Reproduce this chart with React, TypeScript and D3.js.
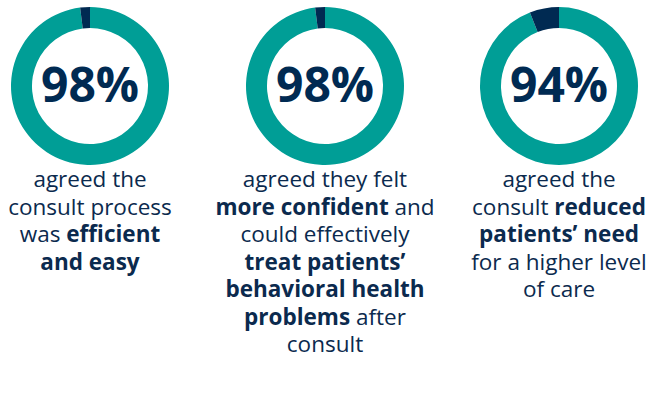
import React from "react";
import * as d3 from "d3";

const values = [98, 98, 94];
const centersX = [90, 325, 559];
const labels = [
  ["agreed the", "consult process", "was **efficient**", "**and easy**"],
  [
    "agreed they felt",
    "**more confident** and",
    "could effectively",
    "**treat patients’**",
    "**behavioral health**",
    "**problems** after",
    "consult",
  ],
  ["agreed the", "consult **reduced**", "**patients’ need**", "for a higher level", "of care"],
];

const TEAL = "#009E96";
const NAVY = "#002A52";
const TEXT = "#0B2A4E";

function parseLine(line: string) {
  const parts = line.split("**");
  return parts
    .map((t, i) => ({ t, bold: i % 2 === 1 }))
    .filter((p) => p.t.length > 0);
}

export default function App() {
  const W = 650;
  const H = 400;
  const outerR = 79;
  const innerR = 58;
  const cy = 86;
  const arc = d3.arc<any>().innerRadius(innerR).outerRadius(outerR);
  const pie = d3.pie<number>().sort(null).value((d) => d);

  return (
    <svg
      width={W}
      height={H}
      style={{ position: "absolute", left: 0, top: 0 }}
      fontFamily="'Open Sans', sans-serif"
    >
      <rect width={W} height={H} fill="#fff" />
      {values.map((v, i) => {
        const arcs = pie([v, 100 - v]);
        return (
          <g key={i} transform={`translate(${centersX[i]},${cy})`}>
            {arcs.map((a, j) => (
              <path key={j} d={arc(a) as string} fill={j === 0 ? TEAL : NAVY} />
            ))}
            <text
              y={16}
              textAnchor="middle"
              fontSize={48}
              fontWeight={700}
              fill={NAVY}
            >
              {`${v}%`}
            </text>
          </g>
        );
      })}
      {labels.map((lines, i) => (
        <text key={i} textAnchor="middle" fontSize={22.5} fill={TEXT}>
          {lines.map((line, k) => (
            <tspan key={k} x={centersX[i]} y={187 + k * 27.5}>
              {parseLine(line).map((p, m) => (
                <tspan key={m} fontWeight={p.bold ? 700 : 400}>
                  {p.t}
                </tspan>
              ))}
            </tspan>
          ))}
        </text>
      ))}
    </svg>
  );
}
